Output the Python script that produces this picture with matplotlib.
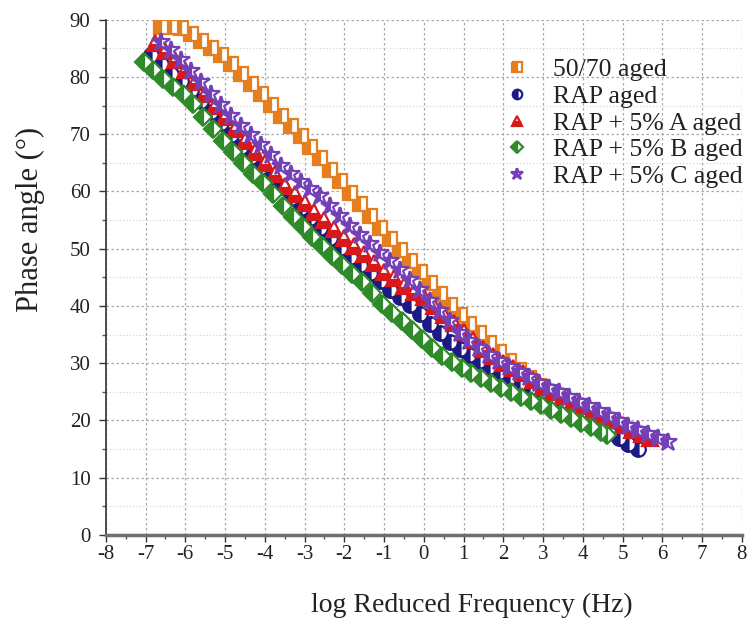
import matplotlib
matplotlib.use("Agg")
import matplotlib.pyplot as plt
from matplotlib.ticker import MultipleLocator

# master curves: log reduced frequency vs phase angle
x_5070 = [-6.6, -6.35, -6.1, -5.85, -5.6, -5.35, -5.1, -4.85, -4.6, -4.35, -4.1, -3.85,
          -3.6, -3.35, -3.1, -2.85, -2.6, -2.35, -2.1, -1.85, -1.6, -1.35, -1.1, -0.85,
          -0.6, -0.35, -0.1, 0.15, 0.4, 0.65, 0.9, 1.15, 1.4, 1.65, 1.9, 2.15, 2.4, 2.65,
          2.9, 3.15, 3.4, 3.65, 3.9, 4.15, 4.4]
y_5070 = [88.8, 88.8, 88.5, 87.5, 86.3, 85.0, 83.8, 82.3, 80.5, 78.7, 77.0, 75.1,
          73.2, 71.5, 69.7, 67.8, 65.8, 63.8, 61.8, 59.8, 57.8, 55.8, 53.6, 51.7,
          49.8, 47.9, 46.0, 44.0, 42.1, 40.2, 38.5, 36.8, 35.2, 33.5, 31.9, 30.3, 28.8, 27.4,
          26.0, 24.8, 23.5, 22.4, 21.4, 20.4, 19.5]

x_rap = [-6.85, -6.6, -6.35, -6.1, -5.85, -5.6, -5.35, -5.1, -4.85, -4.6, -4.35, -4.1,
         -3.85, -3.6, -3.35, -3.1, -2.85, -2.6, -2.35, -2.1, -1.85, -1.6, -1.35, -1.1,
         -0.85, -0.6, -0.35, -0.1, 0.15, 0.4, 0.65, 0.9, 1.15, 1.4, 1.65, 1.9, 2.15, 2.4,
         2.65, 2.9, 3.15, 3.4, 3.65, 3.9, 4.15, 4.4, 4.65, 4.9, 5.15, 5.4]
y_rap = [83.8, 82.2, 80.6, 79.3, 77.7, 75.8, 73.9, 72.0, 69.9, 67.8, 66.0, 64.2,
         62.5, 60.7, 58.9, 57.2, 55.4, 53.7, 51.9, 50.2, 48.6, 47.1, 45.7, 44.3,
         42.8, 41.6, 40.1, 38.6, 36.8, 35.2, 33.7, 32.4, 31.4, 30.4, 29.4, 28.4, 27.4, 26.4,
         25.5, 24.7, 23.8, 22.9, 22.0, 21.3, 20.5, 19.6, 17.8, 16.9, 15.9, 15.0]

x_a = [-6.75, -6.5, -6.25, -6.0, -5.75, -5.5, -5.25, -5.0, -4.75, -4.5, -4.25, -4.0,
       -3.75, -3.5, -3.25, -3.0, -2.75, -2.5, -2.25, -2.0, -1.75, -1.5, -1.25, -1.0,
       -0.75, -0.5, -0.25, 0.0, 0.25, 0.5, 0.75, 1.0, 1.25, 1.5, 1.75, 2.0, 2.25, 2.5,
       2.75, 3.0, 3.25, 3.5, 3.75, 4.0, 4.25, 4.5, 4.75, 5.0, 5.25, 5.5, 5.7]
y_a = [86.0, 84.6, 83.0, 81.3, 79.2, 77.0, 75.0, 73.0, 70.9, 68.8, 66.9, 65.0,
       63.0, 61.0, 59.5, 58.0, 56.5, 55.0, 53.4, 51.8, 50.4, 49.0, 47.5, 46.0,
       44.8, 43.5, 42.5, 41.5, 40.0, 38.5, 37.0, 35.5, 34.0, 32.5, 31.2, 30.0, 29.1, 28.2,
       27.0, 25.8, 25.0, 24.2, 23.3, 22.5, 21.6, 20.8, 20.0, 19.2, 18.4, 17.6, 17.0]

x_b = [-7.05, -6.8, -6.55, -6.3, -6.05, -5.8, -5.55, -5.3, -5.05, -4.8, -4.55, -4.3,
       -4.05, -3.8, -3.55, -3.3, -3.05, -2.8, -2.55, -2.3, -2.05, -1.8, -1.55, -1.3,
       -1.05, -0.8, -0.55, -0.3, -0.05, 0.2, 0.45, 0.7, 0.95, 1.2, 1.45, 1.7, 1.95, 2.2,
       2.45, 2.7, 2.95, 3.2, 3.45, 3.7, 3.95, 4.2, 4.45, 4.6]
y_b = [82.6, 81.2, 79.6, 78.3, 77.0, 75.3, 73.1, 70.9, 68.9, 66.9, 64.9, 63.1,
       61.4, 59.5, 57.4, 55.6, 53.8, 52.1, 50.4, 48.7, 47.1, 45.6, 44.1, 42.3,
       40.3, 38.8, 37.3, 35.8, 34.2, 32.7, 31.3, 30.2, 29.2, 28.3, 27.4, 26.6, 25.7, 24.9,
       24.1, 23.4, 22.7, 21.9, 21.2, 20.4, 19.6, 18.8, 18.0, 17.5]

x_c = [-6.6, -6.35, -6.1, -5.85, -5.6, -5.35, -5.1, -4.85, -4.6, -4.35, -4.1, -3.85,
       -3.6, -3.35, -3.1, -2.85, -2.6, -2.35, -2.1, -1.85, -1.6, -1.35, -1.1, -0.85,
       -0.6, -0.35, -0.1, 0.15, 0.4, 0.65, 0.9, 1.15, 1.4, 1.65, 1.9, 2.15, 2.4, 2.65,
       2.9, 3.15, 3.4, 3.65, 3.9, 4.15, 4.4, 4.65, 4.9, 5.15, 5.4, 5.65, 5.9, 6.15]
y_c = [86.2, 84.8, 83.0, 81.1, 79.1, 77.1, 75.1, 73.2, 71.5, 69.8, 68.1, 66.3,
       64.5, 63.0, 61.7, 60.4, 59.2, 57.5, 55.7, 54.0, 52.4, 50.9, 49.3, 47.8,
       46.3, 44.6, 42.7, 40.9, 39.2, 37.3, 35.3, 33.8, 32.6, 31.4, 30.3, 29.3, 28.4, 27.5,
       26.6, 25.7, 24.9, 24.1, 23.3, 22.5, 21.6, 20.8, 19.9, 19.1, 18.3, 17.6, 16.9, 16.3]

labels = ["50/70 aged", "RAP aged", "RAP + 5% A aged", "RAP + 5% B aged", "RAP + 5% C aged"]

plt.rcParams["font.family"] = ["Liberation Serif", "DejaVu Serif"]
plt.rcParams["axes.unicode_minus"] = False

fig = plt.figure(figsize=(7.5, 6.39), dpi=100)
ax = fig.add_axes([0.141, 0.163, 0.848, 0.806])

series = [
    (x_5070, y_5070, "s", "#E57E1E", "left"),
    (x_rap, y_rap, "o", "#1C1A85", "left"),
    (x_a, y_a, "^", "#D7191C", "bottom"),
    (x_b, y_b, "D", "#2F8A2A", "left"),
    (x_c, y_c, "*", "#7440B8", "left"),
]
sizes = {"s": 10, "o": 10.5, "^": 11.5, "D": 9.5, "*": 13.5}

for (xs, ys, mk, col, fs), lab in zip(series, labels):
    ax.plot(xs, ys, linestyle="none", marker=mk, markersize=sizes[mk],
            markeredgecolor=col, markerfacecolor=col, markerfacecoloralt="white",
            fillstyle=fs, markeredgewidth=1.6, label=lab)

ax.set_xlim(-8, 8)
ax.set_ylim(0, 90)
ax.xaxis.set_major_locator(MultipleLocator(1))
ax.xaxis.set_minor_locator(MultipleLocator(0.5))
ax.yaxis.set_major_locator(MultipleLocator(10))
ax.yaxis.set_minor_locator(MultipleLocator(5))

ax.grid(True, which="major", linestyle=(0, (2, 2)), color="#a8a8a8", linewidth=0.9)
ax.grid(True, which="minor", axis="y", linestyle=(0, (1, 2)), color="#d0d0d0", linewidth=0.8)
ax.set_axisbelow(True)

for side in ("top", "right"):
    ax.spines[side].set_visible(False)
ax.spines["left"].set_color("#333333")
ax.spines["left"].set_linewidth(1.2)
ax.spines["bottom"].set_color("#6e6e6e")
ax.spines["bottom"].set_linewidth(2.5)

ax.tick_params(axis="both", which="major", direction="out", length=5, width=1,
               colors="#333333", labelsize=15, labelcolor="#222222")
ax.tick_params(axis="both", which="minor", direction="out", length=3, width=1, colors="#555555")
ax.tick_params(axis="x", pad=2)
ax.tick_params(axis="y", pad=6)

fig.text(0.04, 0.656, "Phase angle (°)", fontsize=22, color="#222222",
         rotation=90, ha="center", va="center")
fig.text(0.629, 0.053, "log Reduced Frequency (Hz)", fontsize=20, color="#222222",
         ha="center", va="center")

leg = ax.legend(loc="upper left", bbox_to_anchor=(0.626, 0.926), frameon=False,
                fontsize=18.5, handlelength=1.0, handletextpad=0.9, labelspacing=0.15,
                markerscale=0.65, borderpad=0, borderaxespad=0)
for t in leg.get_texts():
    t.set_color("#222222")

fig.savefig("out.png", dpi=100)
